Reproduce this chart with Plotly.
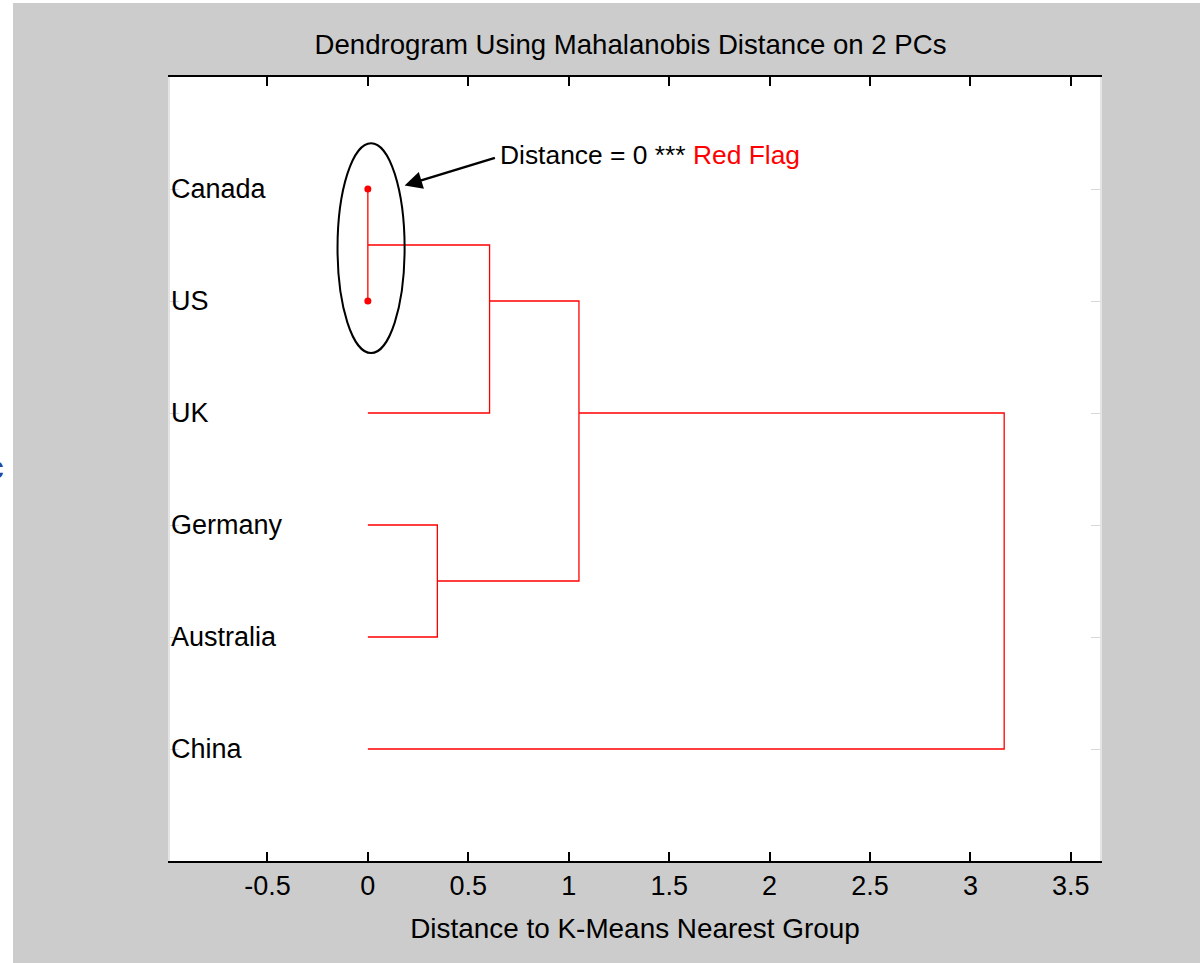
import plotly.graph_objects as go
import numpy as np

# Leaves in display order (top to bottom) and the linkage table
countries = ["Canada", "US", "UK", "Germany", "Australia", "China"]
# each merge: (left node, right node, distance); nodes 0..5 are leaves,
# node 6 onward are the clusters created by the merges in order
merge_left = [0, 6, 3, 7, 9]
merge_right = [1, 2, 4, 8, 5]
merge_dist = [0.0, 0.606, 0.346, 1.051, 3.168]

x_ticks = [-0.5, 0, 0.5, 1, 1.5, 2, 2.5, 3, 3.5]
flagged = ["Canada", "US"]

# position of a leaf along the y axis
leaf_pos = {i: i + 1 for i in range(len(countries))}
node_y = dict(leaf_pos)
node_h = {i: 0.0 for i in range(len(countries))}
node_leaves = {i: [i] for i in range(len(countries))}

seg_x, seg_y = [], []
for k, (a, b, d) in enumerate(zip(merge_left, merge_right, merge_dist)):
    nid = len(countries) + k
    seg_x += [node_h[a], d, d, node_h[b], None]
    seg_y += [node_y[a], node_y[a], node_y[b], node_y[b], None]
    node_leaves[nid] = node_leaves[a] + node_leaves[b]
    node_y[nid] = float(np.mean([leaf_pos[i] for i in node_leaves[nid]]))
    node_h[nid] = d

FONT = "Liberation Sans, Arial, sans-serif"
fig = go.Figure()

fig.add_trace(go.Scatter(
    x=seg_x, y=seg_y, mode="lines",
    line=dict(color="#ff0000", width=1.3),
    hoverinfo="skip", showlegend=False,
))

fig.add_trace(go.Scatter(
    x=[0.0 for _ in flagged],
    y=[leaf_pos[countries.index(c)] for c in flagged],
    mode="markers", marker=dict(color="#ff0000", size=7),
    hoverinfo="skip", showlegend=False,
))

annotations = []
for i, name in enumerate(countries):
    annotations.append(dict(
        x=0, xref="paper", y=leaf_pos[i], yref="y",
        text=name, showarrow=False, xanchor="left", yanchor="middle",
        font=dict(family=FONT, size=27, color="black"), xshift=-1,
    ))

# arrow pointing at the zero-distance pair
annotations.append(dict(
    x=0.183, y=0.968, xref="x", yref="y",
    ax=0.640, ay=0.718, axref="x", ayref="y",
    text="", showarrow=True, arrowhead=2, arrowsize=1.4,
    arrowwidth=2.5, arrowcolor="black",
))
annotations.append(dict(
    x=0.650, y=0.70, xref="x", yref="y",
    text="Distance = 0 *** <span style='color:#ff0000'>Red Flag</span>",
    showarrow=False, xanchor="left", yanchor="middle",
    font=dict(family=FONT, size=26.4, color="black"),
))
# partially visible letter at the far left edge
annotations.append(dict(
    x=(-6 - 170) / 930, xref="paper", y=(861 - 467) / 784, yref="paper",
    text="<b>c</b>", showarrow=False, xanchor="center", yanchor="middle",
    font=dict(family=FONT, size=34, color="#2846a0"),
))

shapes = [
    # ring round the flagged pair
    dict(type="circle", xref="x", yref="y",
         x0=-0.151, x1=0.183, y0=0.591, y1=2.465,
         line=dict(color="black", width=2)),
    # white margins at the window edges
    dict(type="rect", xref="paper", yref="paper", layer="below",
         x0=-0.3, x1=(13 - 170) / 930, y0=-0.3, y1=1.3,
         fillcolor="white", line=dict(width=0)),
    dict(type="rect", xref="paper", yref="paper", layer="below",
         x0=-0.3, x1=1.3, y0=(861 - 3) / 784, y1=1.3,
         fillcolor="white", line=dict(width=0)),
]

fig.update_layout(
    width=1200, height=963,
    margin=dict(l=170, r=100, t=77, b=102),
    paper_bgcolor="#cccccc", plot_bgcolor="white",
    title=dict(text="Dendrogram Using Mahalanobis Distance on 2 PCs",
               x=630.5 / 1200, xref="container", xanchor="center",
               y=1 - 44 / 963, yref="container", yanchor="middle",
               font=dict(family=FONT, size=27.6, color="black")),
    font=dict(family=FONT, size=27, color="black"),
    annotations=annotations, shapes=shapes,
    showlegend=False,
)

fig.update_xaxes(
    range=[-0.985, 3.645], tickvals=x_ticks,
    ticktext=[f"{v:g}" for v in x_ticks],
    ticks="inside", ticklen=9, tickwidth=1.5, tickcolor="black",
    showline=True, linecolor="black", linewidth=1.5, mirror="ticks",
    showgrid=False, zeroline=False,
    tickfont=dict(family=FONT, size=27, color="black"),
    title=dict(text="Distance to K-Means Nearest Group", standoff=18,
               font=dict(family=FONT, size=27.9, color="black")),
)
fig.update_yaxes(
    range=[7, 0], tickvals=[leaf_pos[i] for i in range(len(countries))],
    showticklabels=False,
    ticks="inside", ticklen=9, tickwidth=1, tickcolor="#d8d8d8",
    showline=True, linecolor="#e4e4e4", linewidth=1.5, mirror="ticks",
    showgrid=False, zeroline=False,
)

fig.write_html("out.html")
